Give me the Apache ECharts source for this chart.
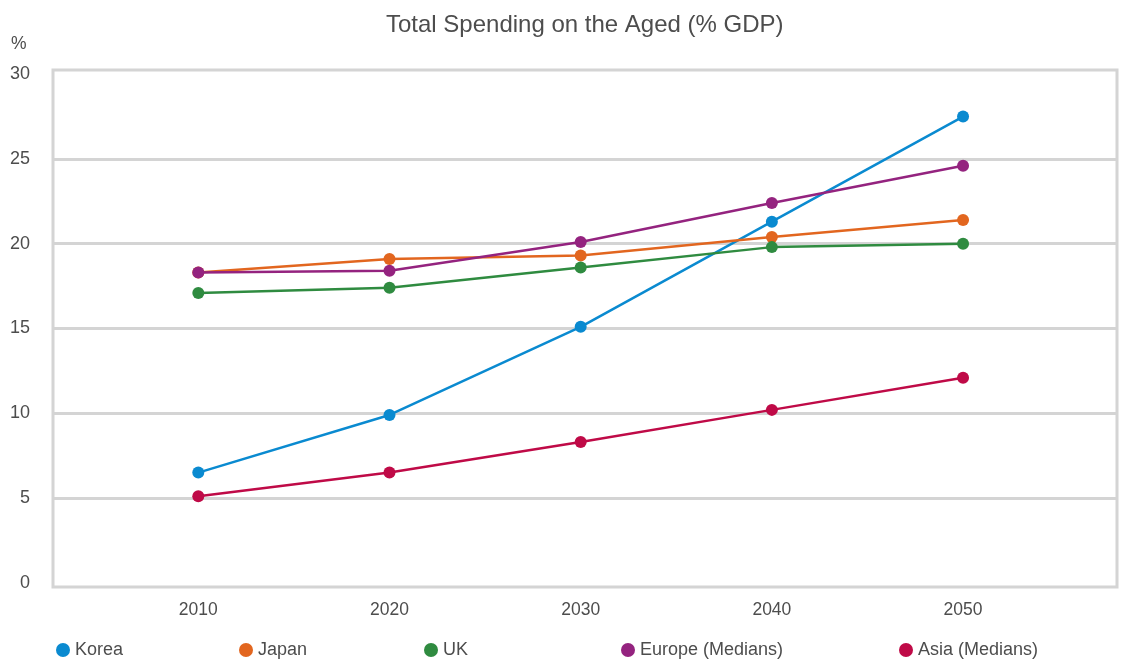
<!DOCTYPE html>
<html>
<head>
<meta charset="utf-8">
<script src="https://cdn.jsdelivr.net/npm/echarts@6/dist/echarts.min.js"></script>
<style>
html,body{margin:0;padding:0;background:#fff;}
#chart{width:1122px;height:659px;}
</style>
</head>
<body>
<div id="chart"></div>
<script>
var years = [2010, 2020, 2030, 2040, 2050];
var seriesNames = ['Korea', 'Japan', 'UK', 'Europe (Medians)', 'Asia (Medians)'];
var korea  = [6.5, 9.9, 15.1, 21.3, 27.5];
var japan  = [18.3, 19.1, 19.3, 20.4, 21.4];
var uk     = [17.1, 17.4, 18.6, 19.8, 20.0];
var europe = [18.3, 18.4, 20.1, 22.4, 24.6];
var asia   = [5.1, 6.5, 8.3, 10.2, 12.1];
var yTicks = [0, 5, 10, 15, 20, 25, 30];

var colors = ['#0a8ad0', '#e2661f', '#2f8b40', '#94237f', '#bf0a47'];
var allValues = [korea, japan, uk, europe, asia];
var legendLeft = [51, 234, 419, 616, 894];

var textColor = '#4d4d4d';
var fontFam = '"Liberation Sans", Arial, Helvetica, sans-serif';

var series = seriesNames.map(function (name, i) {
  return {
    name: name,
    type: 'line',
    data: years.map(function (y, j) { return [y, allValues[i][j]]; }),
    symbol: 'circle',
    symbolSize: 12,
    lineStyle: { width: 2.5, color: colors[i] },
    itemStyle: { color: colors[i] },
    emphasis: { disabled: true },
    z: 3 + i
  };
});

var legends = seriesNames.map(function (name, i) {
  return {
    data: [{ name: name, icon: 'circle' }],
    left: legendLeft[i],
    top: 636,
    itemWidth: 14,
    itemHeight: 14,
    itemGap: 5,
    textStyle: { fontSize: 18, color: textColor, fontFamily: fontFam },
    selectedMode: false
  };
});

var chart = echarts.init(document.getElementById('chart'));
chart.setOption({
  animation: false,
  color: colors,
  title: {
    text: 'Total Spending on the Aged (% GDP)',
    left: 381,
    top: 8,
    textStyle: { fontSize: 24, fontWeight: 'normal', color: textColor, fontFamily: fontFam }
  },
  legend: legends,
  grid: { left: 53, right: 6, top: 74.2, bottom: 76.2, containLabel: false },
  xAxis: {
    type: 'value',
    min: 2002.4,
    max: 2058,
    axisLine: { show: false },
    axisTick: { show: false },
    splitLine: { show: false },
    axisLabel: {
      customValues: years,
      formatter: function (v) { return String(v); },
      fontSize: 17.5,
      color: textColor,
      fontFamily: fontFam,
      margin: 18
    }
  },
  yAxis: {
    type: 'value',
    min: 0,
    max: 30,
    interval: 5,
    axisLine: { show: false },
    axisTick: { show: false },
    splitLine: { show: true, showMinLine: false, showMaxLine: false, lineStyle: { color: '#d4d4d4', width: 3 } },
    axisLabel: {
      customValues: yTicks,
      fontSize: 18,
      color: textColor,
      fontFamily: fontFam,
      margin: 23
    }
  },
  graphic: [
    {
      type: 'rect',
      shape: { x: 53, y: 70, width: 1064, height: 517 },
      style: { fill: 'none', stroke: '#d4d4d4', lineWidth: 3 },
      z: 1,
      silent: true
    },
    {
      type: 'text',
      left: 11,
      top: 35,
      style: { text: '%', fontSize: 17.5, fill: textColor, fontFamily: fontFam },
      silent: true
    }
  ],
  series: series
});
</script>
</body>
</html>
